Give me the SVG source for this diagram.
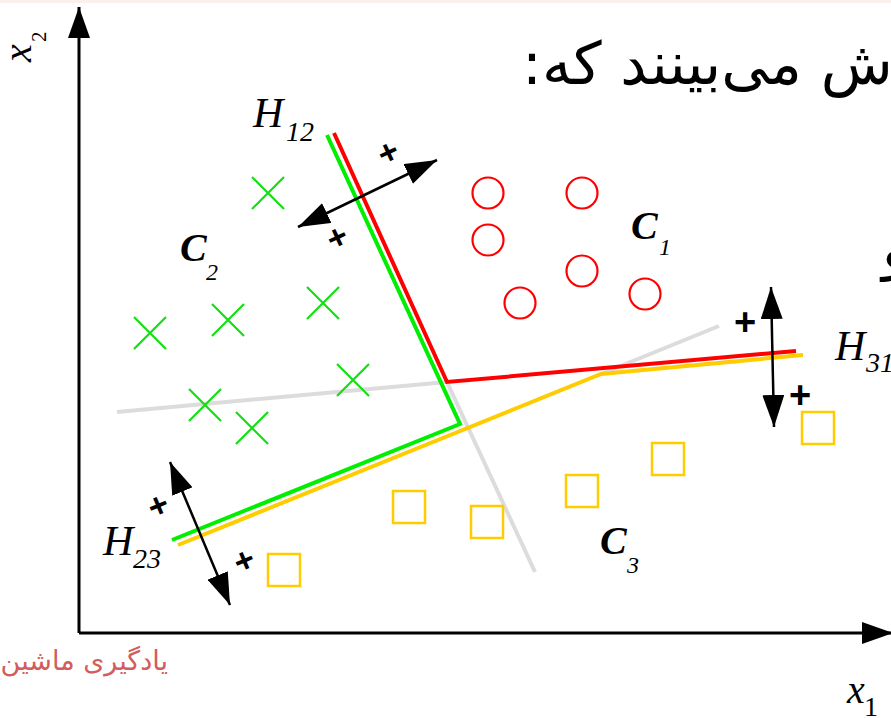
<svg xmlns="http://www.w3.org/2000/svg" width="891" height="718" viewBox="0 0 891 718">
<style>
.ax{stroke:#000;stroke-width:3;fill:none}
.arr{stroke:#000;stroke-width:2.5;fill:none}
.hp{fill:none;stroke-width:4;stroke-linejoin:miter}
.gray{stroke:#dcdcdc;stroke-width:4;fill:none}
.circ{fill:none;stroke:#ff0000;stroke-width:2.2}
.cross{fill:none;stroke:#11e011;stroke-width:2.2}
.sq{fill:none;stroke:#ffcc00;stroke-width:2.5}
.it{font-family:"Liberation Serif","Times New Roman",serif;font-style:italic;fill:#000}
.cl{font-family:"Liberation Serif","Times New Roman",serif;font-style:italic;font-weight:bold;fill:#000}
.pl{font-family:"Liberation Sans",Arial,sans-serif;font-weight:bold;fill:#000;text-anchor:middle;dominant-baseline:central}
.fa{font-family:"DejaVu Sans","Noto Sans",sans-serif;fill:#000}
</style>
<defs>
<marker id="ah" viewBox="0 0 32 22" refX="32" refY="11" markerWidth="32" markerHeight="22" markerUnits="userSpaceOnUse" orient="auto-start-reverse">
<path d="M0,0 L32,11 L0,22 z" fill="#000"/>
</marker>
<marker id="axh" viewBox="0 0 31 22" refX="31" refY="11" markerWidth="31" markerHeight="22" markerUnits="userSpaceOnUse" orient="auto">
<path d="M0,0 L31,11 L0,22 z" fill="#000"/>
</marker>
</defs>
<rect x="0" y="0" width="891" height="718" fill="#fff"/>
<rect x="0" y="0" width="891" height="3" fill="#fcf0ec"/>

<g id="slide-text">
<text class="fa" x="522" y="84" font-size="59">ش می‌بینند که:&#x200F;</text>
<text class="fa" x="882" y="268" font-size="56">و</text>
<text class="fa" x="168" y="670" font-size="27" text-anchor="end" style="fill:#d35c5c">یادگیری ماشین</text>
</g>

<g id="axes">
<path class="ax" d="M79,633 L79,7" marker-end="url(#axh)"/>
<path class="ax" d="M79,633 L893,633" marker-end="url(#axh)"/>
<g transform="translate(31,62) rotate(-90)">
<text class="it" x="0" y="0" font-size="40">x</text>
<text class="it" x="20" y="15" font-size="21" style="font-style:normal">2</text>
</g>
<text class="it" x="847" y="703" font-size="40">x</text>
<text class="it" x="864" y="716" font-size="28" style="font-style:normal">1</text>
</g>

<g id="connectors">
<g id="extensions">
<path class="gray" d="M117,412 L447,382"/>
<path class="gray" d="M447,382 L535,572"/>
<path class="gray" d="M601,374 L719,326"/>
</g>
<path id="H23-boundary" class="hp" stroke="#ffcc00" d="M178,545 L601,374 L803,355"/>
<path id="H12-boundary" class="hp" stroke="#00ee00" d="M327,135 L460,424 L172,540"/>
<path id="H31-boundary" class="hp" stroke="#ff0000" d="M334,133 L447,382 L796,351"/>
<path class="arr" d="M298,227 L437,160" marker-start="url(#ah)" marker-end="url(#ah)"/>
<path class="arr" d="M170,462 L230,605" marker-start="url(#ah)" marker-end="url(#ah)"/>
<path class="arr" d="M771,287 L774,427" marker-start="url(#ah)" marker-end="url(#ah)"/>
</g>

<g id="plus-signs">
<text class="pl" x="388" y="152" font-size="34" transform="rotate(-25 388 152)">+</text>
<text class="pl" x="337" y="237" font-size="34" transform="rotate(-25 337 237)">+</text>
<text class="pl" x="158" y="505" font-size="34" transform="rotate(-23 158 505)">+</text>
<text class="pl" x="244" y="560" font-size="34" transform="rotate(-23 244 560)">+</text>
<text class="pl" x="745" y="322" font-size="38">+</text>
<text class="pl" x="800" y="395" font-size="38">+</text>
</g>

<g id="labels">
<g id="H12"><text class="it" x="253" y="127" font-size="42">H</text><text class="it" x="286" y="141" font-size="28">12</text></g>
<g id="H23"><text class="it" x="103" y="555" font-size="42">H</text><text class="it" x="133" y="568" font-size="28">23</text></g>
<g id="H31"><text class="it" x="835" y="360" font-size="42">H</text><text class="it" x="866" y="372" font-size="28">31</text></g>
</g>

<g id="class-C1">
<circle class="circ" cx="488" cy="193" r="15.5"/>
<circle class="circ" cx="582" cy="193" r="15.5"/>
<circle class="circ" cx="488" cy="240" r="15.5"/>
<circle class="circ" cx="582" cy="271" r="15.5"/>
<circle class="circ" cx="520" cy="303" r="15.5"/>
<circle class="circ" cx="645" cy="294" r="15.5"/>
<text class="cl" x="631" y="239" font-size="40">C</text><text class="it" x="659" y="255" font-size="24">1</text>
</g>

<g id="class-C2">
<path class="cross" d="M252,177 L284,209 M284,177 L252,209"/>
<path class="cross" d="M307,287 L339,319 M339,287 L307,319"/>
<path class="cross" d="M134,317 L166,349 M166,317 L134,349"/>
<path class="cross" d="M212,304 L244,336 M244,304 L212,336"/>
<path class="cross" d="M189,389 L221,421 M221,389 L189,421"/>
<path class="cross" d="M236,412 L268,444 M268,412 L236,444"/>
<path class="cross" d="M337,364 L369,396 M369,364 L337,396"/>
<text class="cl" x="180" y="261" font-size="40">C</text><text class="it" x="206" y="280" font-size="24">2</text>
</g>

<g id="class-C3">
<rect class="sq" x="268" y="554" width="32" height="32"/>
<rect class="sq" x="393" y="491" width="32" height="32"/>
<rect class="sq" x="471" y="506" width="32" height="32"/>
<rect class="sq" x="566" y="475" width="32" height="32"/>
<rect class="sq" x="652" y="443" width="32" height="32"/>
<rect class="sq" x="802" y="412" width="32" height="32"/>
<text class="cl" x="600" y="554" font-size="40">C</text><text class="it" x="627" y="573" font-size="24">3</text>
</g>
</svg>
